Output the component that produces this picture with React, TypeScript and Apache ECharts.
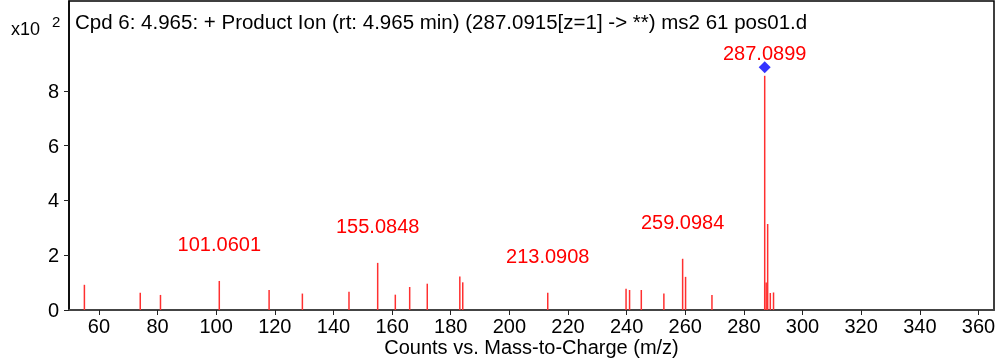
import React, { useEffect, useRef } from "react";
import * as echarts from "echarts";

// m/z of each peak
const mzValues = [
  55.05, 74.1, 81.0, 101.0601, 118.05, 129.4, 145.3, 155.0848, 161.1, 166.0,
  172.0, 183.1, 184.1, 213.0908, 239.8, 241.0, 245.0, 252.7, 259.0984, 260.1,
  269.1, 287.0899, 287.6, 288.1, 289.0, 290.1,
];
// intensity in units of 10^2 counts
const intensities = [
  0.92, 0.63, 0.55, 1.06, 0.73, 0.6, 0.67, 1.72, 0.56, 0.84,
  0.96, 1.22, 1.01, 0.63, 0.78, 0.73, 0.73, 0.6, 1.87, 1.21,
  0.55, 8.55, 1.0, 3.14, 0.62, 0.64,
];
// peaks carrying an m/z label
const labeledMz = [101.0601, 155.0848, 213.0908, 259.0984, 287.0899];
// precursor marker
const precursorMz = [287.0915];
const precursorLevel = [8.86];

const xTicks = [60, 80, 100, 120, 140, 160, 180, 200, 220, 240, 260, 280, 300, 320, 340, 360];
const yTicks = [0, 2, 4, 6, 8];

const titleText =
  "Cpd 6: 4.965: + Product Ion (rt: 4.965 min) (287.0915[z=1] -> **) ms2 61 pos01.d";
const xAxisTitle = "Counts vs. Mass-to-Charge (m/z)";
const FONT = '"Liberation Sans", Arial, Helvetica, sans-serif';

export default function App() {
  const ref = useRef<HTMLDivElement>(null);
  useEffect(() => {
    document.body.style.margin = "0";
    const chart = echarts.init(ref.current!, null, { renderer: "svg" });
    const barData = mzValues.map((mz, i) => {
      const isLabeled = labeledMz.includes(mz);
      const item: any = { value: [mz, intensities[i]] };
      if (isLabeled) {
        item.label = {
          show: true,
          position: "top",
          formatter: mz.toFixed(4),
          offset: [0, mz === 287.0899 ? -8 : -22],
        };
      }
      return item;
    });
    chart.setOption({
      animation: false,
      textStyle: { fontFamily: FONT },
      grid: { left: 69, right: 1, top: 1, bottom: 50, show: true, borderColor: "#000", borderWidth: 1.5, outerBoundsMode: "none" },
      xAxis: {
        type: "value",
        min: 49.8,
        max: 365.3,
        name: xAxisTitle,
        nameLocation: "middle",
        nameGap: 27,
        nameMoveOverlap: false,
        nameTextStyle: { fontSize: 20, lineHeight: 20, color: "#000", fontFamily: FONT },
        axisLine: { show: true, lineStyle: { color: "#444", width: 2 } },
        axisTick: { show: true, customValues: xTicks, length: 5, lineStyle: { color: "#222" } },
        axisLabel: { customValues: xTicks, fontSize: 20, color: "#000", margin: 6, fontFamily: FONT },
        splitLine: { show: false },
      },
      yAxis: {
        type: "value",
        min: 0,
        max: 11.28,
        axisLine: { show: true, lineStyle: { color: "#000", width: 1.5 } },
        axisTick: { show: true, customValues: yTicks, length: 5, lineStyle: { color: "#222" } },
        axisLabel: { customValues: yTicks, fontSize: 20, color: "#000", margin: 10, fontFamily: FONT },
        splitLine: { show: false },
      },
      series: [
        {
          type: "bar",
          data: barData,
          barWidth: 1.5,
          itemStyle: { color: "#ff3030" },
          label: { color: "#ff0000", fontSize: 20, fontFamily: FONT },
        },
        {
          type: "scatter",
          data: precursorMz.map((m, i) => [m, precursorLevel[i]]),
          symbol: "diamond",
          symbolSize: 12,
          itemStyle: { color: "#0000ff" },
          z: 5,
        },
      ],
      graphic: [
        {
          type: "text",
          style: { text: titleText, x: 75, y: 21, fill: "#000", font: `20.5px ${FONT}`, textVerticalAlign: "middle" },
        },
        {
          type: "text",
          style: { text: "x10", x: 11, y: 29, fill: "#000", font: `18px ${FONT}`, textVerticalAlign: "middle" },
        },
        {
          type: "text",
          style: { text: "2", x: 52, y: 21, fill: "#000", font: `15px ${FONT}`, textVerticalAlign: "middle" },
        },
      ],
    });
    return () => chart.dispose();
  }, []);
  return <div ref={ref} style={{ position: "fixed", left: 0, top: 0, width: 995, height: 360 }} />;
}
